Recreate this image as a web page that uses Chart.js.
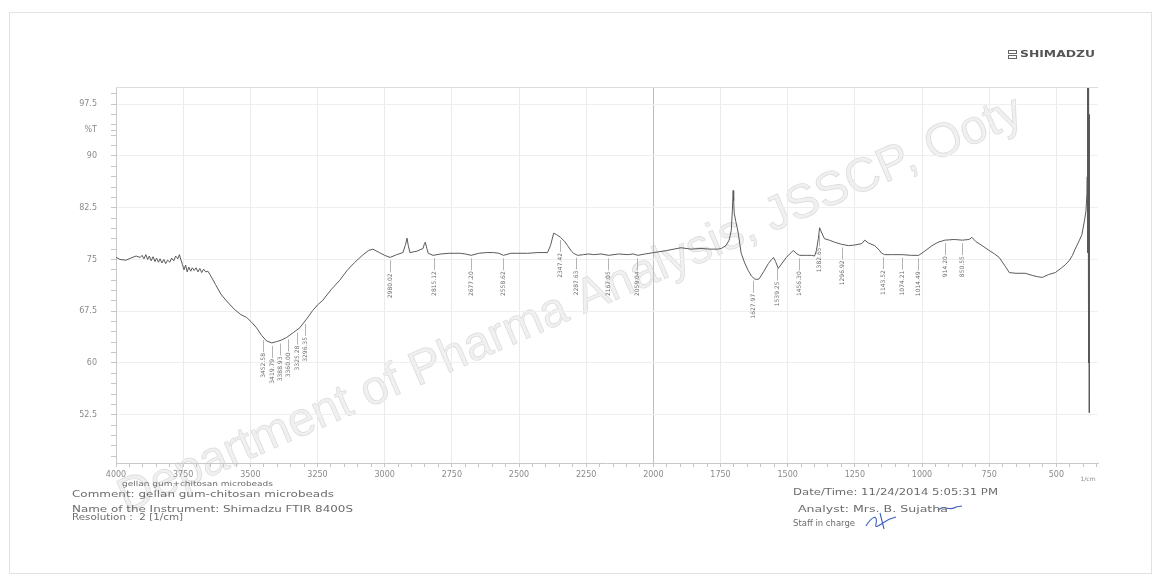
<!DOCTYPE html>
<html>
<head>
<meta charset="utf-8">
<title>FTIR spectrum – gellan gum + chitosan microbeads</title>
<script src="https://cdn.jsdelivr.net/npm/chart.js@4.4.1/dist/chart.umd.min.js"></script>
<style>
  html, body { margin: 0; padding: 0; background: #fff; }
  #page { position: relative; width: 1161px; height: 586px; overflow: hidden; background: #fff; }
  #frame { position: absolute; left: 9px; top: 12px; width: 1141px; height: 560px; border: 1px solid #e2e2e2; }
  #spectrum { position: absolute; left: 0; top: 0; }
  .t { position: absolute; white-space: nowrap; transform-origin: 0 50%;
       font-family: "DejaVu Sans", "Liberation Sans", Arial, sans-serif; color: #6c6c6c; line-height: 1; }
  .logo { position: absolute; left: 1008px; top: 50px; height: 10px; }
  .logo i { position: absolute; left: 0; width: 9px; height: 4px; border: 1px solid #666; box-sizing: border-box; }
</style>
</head>
<body>
<div id="page">
  <div id="frame"></div>
  <canvas id="spectrum" width="1161" height="586"></canvas>

  <div class="logo"><i style="top:0"></i><i style="top:5px"></i></div>
  <div class="t" style="left:1020px;top:51px;font-size:8px;font-weight:bold;color:#555" data-w="75">SHIMADZU</div>

  <div class="t" style="left:122px;top:481px;font-size:7px" data-w="151">gellan gum+chitosan microbeads</div>
  <div class="t" style="left:72px;top:490px;font-size:9px" data-w="262">Comment: gellan gum-chitosan microbeads</div>
  <div class="t" style="left:72px;top:505px;font-size:8.5px" data-w="281">Name of the Instrument: Shimadzu FTIR 8400S</div>
  <div class="t" style="left:72px;top:513px;font-size:8.5px" data-w="111">Resolution :&nbsp;&nbsp;2 [1/cm]</div>

  <div class="t" style="left:793px;top:488px;font-size:9px" data-w="205">Date/Time: 11/24/2014 5:05:31 PM</div>
  <div class="t" style="left:798px;top:505px;font-size:8.5px" data-w="150">Analyst: Mrs. B. Sujatha</div>
  <div class="t" style="left:793px;top:520px;font-size:8px" data-w="62">Staff in charge</div>
</div>

<script>
// Transmittance spectrum (wavenumber in 1/cm, %T)
const wavenumber = [
  4000, 3985, 3963, 3945, 3925, 3910, 3903, 3896, 3889, 3882, 3876, 3869, 3862, 3855, 3849, 3842,
  3836, 3829, 3822, 3815, 3808, 3800, 3793, 3785, 3778, 3770, 3764, 3758, 3753, 3747, 3741, 3735,
  3729, 3722, 3716, 3709, 3702, 3695, 3688, 3681, 3674, 3666, 3658, 3650, 3630, 3610, 3589, 3560,
  3535, 3514, 3495, 3477, 3458, 3440, 3420, 3402, 3385, 3365, 3340, 3316, 3290, 3268, 3250, 3230,
  3200, 3167, 3140, 3111, 3080, 3060, 3044, 3020, 3000, 2980, 2955, 2932, 2922, 2917, 2912, 2906,
  2880, 2857, 2852, 2849, 2843, 2838, 2820, 2790, 2760, 2719, 2700, 2678, 2650, 2620, 2595, 2575,
  2558, 2530, 2500, 2468, 2430, 2394, 2383, 2371, 2360, 2345, 2330, 2319, 2305, 2297, 2282, 2260,
  2240, 2222, 2195, 2166, 2130, 2095, 2075, 2058, 2030, 1998, 1950, 1897, 1860, 1822, 1790, 1760,
  1747, 1730, 1718, 1710, 1706, 1703, 1701, 1699, 1693, 1688, 1684, 1678, 1673, 1660, 1647, 1635,
  1624, 1615, 1606, 1590, 1572, 1560, 1553, 1545, 1535, 1520, 1505, 1490, 1479, 1465, 1456, 1430,
  1411, 1400, 1393, 1386, 1381, 1375, 1363, 1345, 1325, 1300, 1273, 1250, 1224, 1213, 1200, 1176,
  1160, 1150, 1139, 1110, 1075, 1040, 1012, 990, 963, 940, 915, 880, 850, 825, 814, 800,
  776, 750, 730, 713, 690, 675, 650, 616, 590, 570, 552, 530, 504, 480, 465, 451,
  440, 430, 414, 405, 395, 390, 386, 385, 384, 383, 382, 381.3, 380.6, 380, 379.4, 378.8,
  378, 377.3
];
const transmittance = [
  75.3, 75.0, 74.9, 75.2, 75.5, 75.3, 75.6, 75.1, 75.7, 75.0, 75.5, 74.8, 75.4, 74.7, 75.2, 74.6,
  75.1, 74.5, 75.0, 74.4, 74.9, 74.6, 75.2, 74.8, 75.5, 75.1, 75.7, 74.9, 74.3, 73.5, 74.2, 73.2,
  73.9, 73.3, 73.8, 73.4, 73.8, 73.2, 73.7, 73.1, 73.6, 73.2, 73.3, 72.8, 71.4, 70.0, 69.0, 67.8,
  67.0, 66.6, 65.9, 65.1, 64.0, 63.2, 62.9, 63.1, 63.3, 63.7, 64.4, 65.1, 66.4, 67.6, 68.4, 69.1,
  70.6, 72.0, 73.4, 74.6, 75.7, 76.3, 76.5, 76.0, 75.6, 75.3, 75.7, 76.0, 77.2, 78.1, 77.0, 76.0,
  76.2, 76.6, 77.3, 77.5, 76.6, 75.9, 75.6, 75.8, 75.9, 75.9, 75.8, 75.6, 75.9, 76.0, 76.0, 75.9,
  75.6, 75.9, 75.9, 75.9, 76.0, 76.0, 77.0, 78.8, 78.6, 78.2, 77.6, 77.0, 76.2, 75.9, 75.6, 75.7,
  75.8, 75.7, 75.8, 75.6, 75.8, 75.7, 75.8, 75.6, 75.8, 76.0, 76.3, 76.7, 76.5, 76.6, 76.5, 76.5,
  76.6, 77.0, 77.8, 79.2, 82.0, 85.0, 83.5, 81.7, 80.5, 79.6, 78.8, 77.2, 75.9, 74.5, 73.4, 72.6,
  72.2, 72.1, 72.2, 73.2, 74.4, 75.0, 75.3, 74.7, 73.7, 74.5, 75.3, 75.9, 76.3, 75.8, 75.6, 75.6,
  75.6, 75.5, 76.3, 78.0, 79.6, 79.0, 78.0, 77.8, 77.5, 77.2, 77.0, 77.1, 77.3, 77.8, 77.4, 77.0,
  76.4, 75.9, 75.7, 75.7, 75.7, 75.6, 75.6, 76.2, 77.0, 77.5, 77.8, 77.9, 77.8, 77.9, 78.2, 77.6,
  77.0, 76.3, 75.8, 75.3, 74.0, 73.1, 73.0, 73.0, 72.7, 72.5, 72.4, 72.8, 73.1, 73.8, 74.3, 74.9,
  75.6, 76.5, 77.8, 78.6, 80.7, 82.0, 84.5, 87.0, 101, 76, 101, 70, 101, 66, 101, 60,
  96, 52.8
];

// Picked absorption bands (1/cm)
const peakWavenumbers = [
  3452.58, 3419.79, 3388.93, 3360.00, 3325.28, 3296.35, 2980.02, 2815.12, 2677.20, 2558.62,
  2347.42, 2287.63, 2167.05, 2059.04, 1627.97, 1539.25, 1456.30, 1382.65, 1296.92, 1143.52,
  1074.21, 1014.49, 914.20, 850.55
];

// Axis labels
const xTickValues = [4000, 3750, 3500, 3250, 3000, 2750, 2500, 2250, 2000, 1750, 1500, 1250, 1000, 750, 500];
const yTickValues = [97.5, 90, 82.5, 75, 67.5, 60, 52.5];
const yUnitLabel = '%T';
const yUnitValue = 93.75;
const xUnitLabel = '1/cm';
const watermarkText = 'Department of Pharma Analysis, JSSCP, Ooty';

// linear interpolation along the spectrum (wavenumber decreasing)
function curveAt(wn) {
  for (let i = 0; i < wavenumber.length - 1; i++) {
    const a = wavenumber[i], b = wavenumber[i + 1];
    if (wn <= a && wn >= b) {
      const f = (a - wn) / (a - b);
      return transmittance[i] + f * (transmittance[i + 1] - transmittance[i]);
    }
  }
  return transmittance[transmittance.length - 1];
}

const FONT = '"DejaVu Sans", "Liberation Sans", Arial, sans-serif';

const decorations = {
  id: 'decorations',
  beforeDraw(chart) {
    const ctx = chart.ctx;
    ctx.save();
    ctx.translate(126, 513);
    ctx.rotate(-23.5 * Math.PI / 180);
    ctx.font = '48px "Liberation Sans", Arial, sans-serif';
    ctx.textBaseline = 'alphabetic';
    ctx.fillStyle = 'rgba(0,0,0,0.06)';
    ctx.fillText(watermarkText, 0, 0);
    ctx.strokeStyle = 'rgba(0,0,0,0.12)';
    ctx.lineWidth = 0.8;
    ctx.strokeText(watermarkText, 0, 0);
    ctx.restore();
  },
  afterDatasetsDraw(chart) {
    const { ctx, chartArea } = chart;
    const xs = chart.scales.x, ys = chart.scales.y;
    ctx.save();
    // frame line along the top of the plot
    ctx.strokeStyle = '#dcdcdc';
    ctx.lineWidth = 1;
    ctx.beginPath();
    ctx.moveTo(chartArea.left, chartArea.top + 0.5);
    ctx.lineTo(chartArea.right, chartArea.top + 0.5);
    ctx.stroke();

    // band labels hanging below the trace
    ctx.font = '6px ' + FONT;
    ctx.fillStyle = '#6e6e6e';
    ctx.strokeStyle = '#b4b4b4';
    ctx.textBaseline = 'middle';
    ctx.textAlign = 'left';
    peakWavenumbers.forEach(wn => {
      const px = Math.round(xs.getPixelForValue(wn)) + 0.5;
      const py = ys.getPixelForValue(curveAt(wn));
      const txt = wn.toFixed(2);
      const w = ctx.measureText(txt).width;
      const top = py + 16;
      ctx.beginPath();
      ctx.moveTo(px, py + 3);
      ctx.lineTo(px, top - 1);
      ctx.stroke();
      ctx.save();
      ctx.translate(px, top + w);
      ctx.rotate(-Math.PI / 2);
      ctx.fillText(txt, 0, 0);
      ctx.restore();
    });

    // unit of the wavenumber axis
    ctx.font = '6px ' + FONT;
    ctx.fillStyle = '#8a8a8a';
    ctx.textAlign = 'center';
    ctx.fillText(xUnitLabel, chartArea.right - 10, chartArea.bottom + 16);
    ctx.restore();
  },
  afterDraw(chart) {
    // countersignature strokes
    const ctx = chart.ctx;
    ctx.save();
    ctx.strokeStyle = '#3d5fc4';
    ctx.lineWidth = 1.1;
    ctx.beginPath();
    ctx.moveTo(866, 526);
    ctx.bezierCurveTo(872, 516, 878, 514, 876, 524);
    ctx.bezierCurveTo(874, 531, 884, 521, 890, 519);
    ctx.lineTo(896, 517);
    ctx.moveTo(880, 513);
    ctx.lineTo(884, 529);
    ctx.stroke();
    ctx.beginPath();
    ctx.moveTo(938, 510);
    ctx.bezierCurveTo(944, 504, 950, 512, 956, 507);
    ctx.lineTo(962, 506);
    ctx.stroke();
    ctx.restore();
  }
};

const points = wavenumber.map((wn, i) => ({ x: wn, y: transmittance[i] }));

new Chart(document.getElementById('spectrum'), {
  type: 'line',
  data: {
    datasets: [{
      data: points,
      borderColor: '#5a5a5a',
      borderWidth: 1,
      pointRadius: 0,
      tension: 0,
      fill: false
    }]
  },
  options: {
    responsive: false,
    animation: false,
    devicePixelRatio: 1,
    layout: { padding: { top: 87, right: 63, bottom: 0, left: 0 } },
    plugins: { legend: { display: false }, tooltip: { enabled: false } },
    scales: {
      x: {
        type: 'linear',
        reverse: true,
        min: 345,
        max: 4000,
        afterBuildTicks(scale) {
          const t = [];
          for (let v = 4000; v >= 350; v -= 50) t.push({ value: v });
          scale.ticks = t;
        },
        afterFit(scale) { scale.height = 123; },
        ticks: {
          autoSkip: false,
          maxRotation: 0,
          padding: 3,
          color: '#8a8a8a',
          font: { family: FONT, size: 8 },
          callback: v => xTickValues.includes(v) ? String(v) : ''
        },
        grid: {
          color: c => {
            const v = c.tick ? c.tick.value : null;
            if (v === 2000) return '#bdbdbd';
            return xTickValues.includes(v) ? '#ebebeb' : 'rgba(0,0,0,0)';
          },
          tickColor: '#c6c6c6',
          tickLength: 4
        },
        border: { color: '#c8c8c8' }
      },
      y: {
        type: 'linear',
        min: 45.5,
        max: 100,
        afterBuildTicks(scale) {
          const t = [];
          for (let i = 31; i <= 66; i++) t.push({ value: i * 1.5 });
          t.push({ value: yUnitValue });
          t.sort((a, b) => a.value - b.value);
          scale.ticks = t;
        },
        afterFit(scale) { scale.width = 116; },
        ticks: {
          autoSkip: false,
          padding: 14,
          color: '#8a8a8a',
          font: { family: FONT, size: 8 },
          callback: v => v === yUnitValue ? yUnitLabel : (yTickValues.includes(v) ? String(v) : '')
        },
        grid: {
          color: c => (c.tick && yTickValues.includes(c.tick.value)) ? '#efefef' : 'rgba(0,0,0,0)',
          tickColor: '#c6c6c6',
          tickLength: 5
        },
        border: { color: '#c8c8c8' }
      }
    }
  },
  plugins: [decorations]
});

// stretch the printed notes to their line lengths
document.querySelectorAll('.t[data-w]').forEach(el => {
  const w = el.getBoundingClientRect().width;
  if (w > 0) el.style.transform = 'scaleX(' + (parseFloat(el.dataset.w) / w) + ')';
});
</script>
</body>
</html>
